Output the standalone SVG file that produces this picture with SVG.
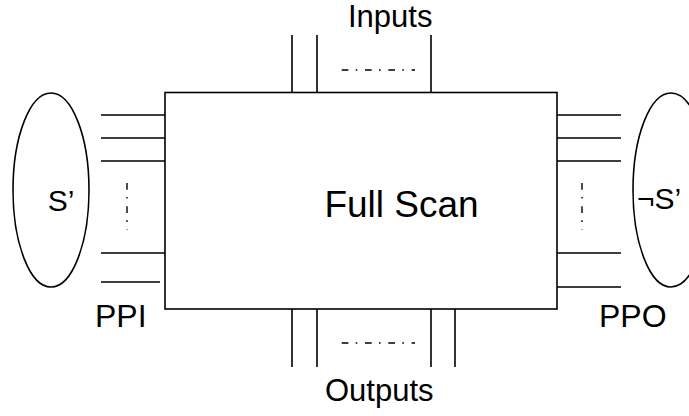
<svg xmlns="http://www.w3.org/2000/svg" width="689" height="416" viewBox="0 0 689 416">
<style>
.ln{stroke:#000;stroke-width:1.6;fill:none}
.dd{stroke:#000;stroke-width:1.4;fill:none;stroke-dasharray:6.7 7.3 1.6 7.7}
.t{font-family:"Liberation Sans",Arial,sans-serif;fill:#000}
</style>
<rect width="689" height="416" fill="#fff"/>
<g id="full-scan">
<rect class="ln" x="165" y="92.5" width="392" height="216.5"/>
<text class="t" x="401.5" y="217" font-size="37" text-anchor="middle">Full Scan</text>
</g>
<g id="s-prime">
<ellipse class="ln" cx="51" cy="190" rx="38" ry="97"/>
<text class="t" x="61" y="211" font-size="30" text-anchor="middle">S’</text>
</g>
<g id="not-s-prime">
<ellipse class="ln" cx="671" cy="190" rx="38" ry="97"/>
<text class="t" x="637" y="209" font-size="30">¬S’</text>
</g>
<g id="ppi-label"><text class="t" x="95" y="327" font-size="32">PPI</text></g>
<g id="ppo-label"><text class="t" x="599" y="327" font-size="32">PPO</text></g>
<g id="inputs-label"><text class="t" x="348" y="27" font-size="31">Inputs</text></g>
<g id="outputs-label"><text class="t" x="325" y="401" font-size="31">Outputs</text></g>
<g id="connectors">
<path class="ln" d="M101 115H165M101 138H165M101 161H165M101 253H165M101 282H160"/>
<path class="ln" d="M557 115H621M557 138H621M557 161H621M557 253H621M557 287H621"/>
<path class="ln" d="M292 35V92.5M317 35V92.5M431 35V92.5"/>
<path class="ln" d="M292 309V367M317 309V367M431 309V367M455 309V367"/>
<path class="dd" d="M127 183V230"/>
<path class="dd" d="M582 183V230"/>
<path class="dd" d="M341.7 70H415"/>
<path class="dd" d="M341.7 343H415"/>
</g>
</svg>
